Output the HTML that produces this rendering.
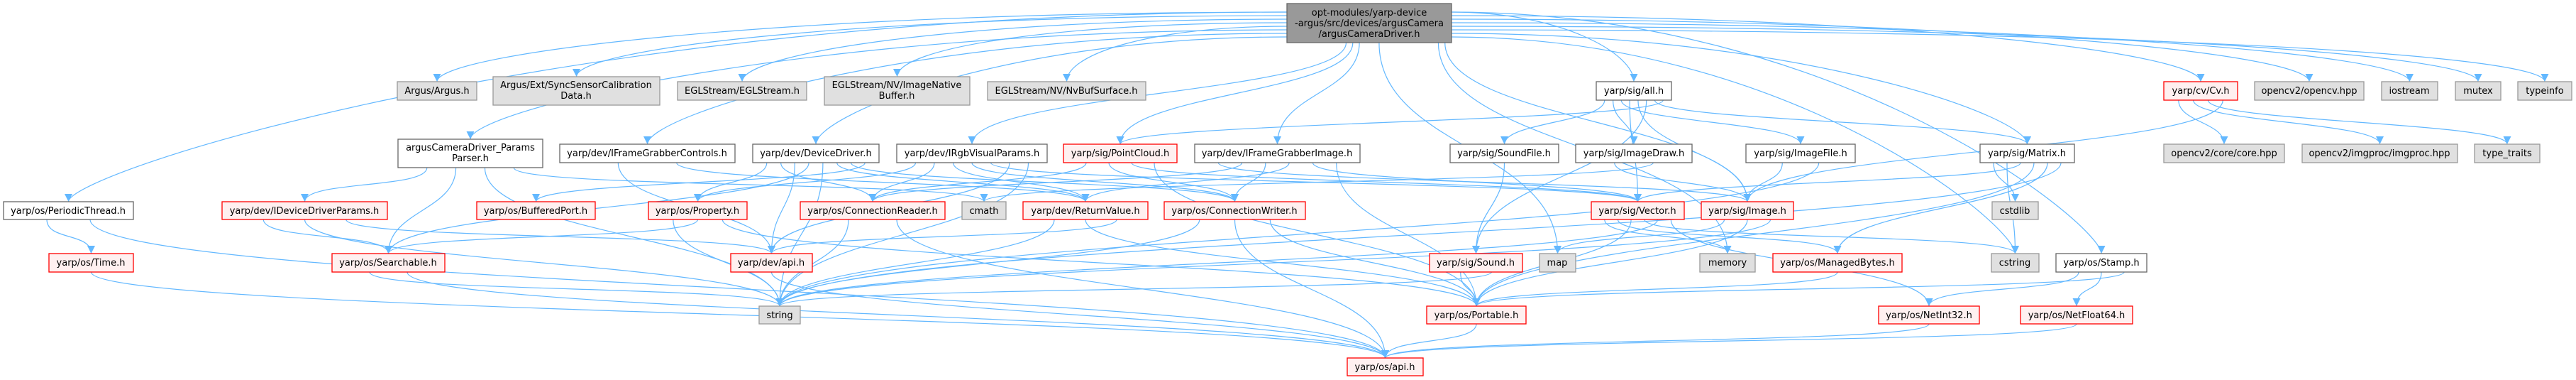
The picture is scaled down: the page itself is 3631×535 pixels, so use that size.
<!DOCTYPE html>
<html><head><meta charset="utf-8">
<style>
html,body{margin:0;padding:0;background:#fff;}
svg{display:block;}
text{font-family:"DejaVu Sans","Liberation Sans",sans-serif;font-size:13px;fill:#000;text-anchor:middle;}
.g rect{fill:#e0e0e0;stroke:#999;stroke-width:1.3;}
.w rect{fill:#fff;stroke:#666;stroke-width:1.3;}
.r rect{fill:#fff0f0;stroke:#f00;stroke-width:1.3;}
.m rect{fill:#999;stroke:#666;stroke-width:1.3;}
#edges path{fill:none;stroke:#63b8ff;stroke-width:1.2;}
</style></head>
<body>
<svg id="s" width="3631" height="535" viewBox="0 0 3631 535" xmlns="http://www.w3.org/2000/svg">
<defs><marker id="a" viewBox="0 0 10 10" refX="10" refY="5" markerWidth="11" markerHeight="11" markerUnits="userSpaceOnUse" orient="auto"><path d="M0,0 L10,5 L0,10 z" fill="#63b8ff"/></marker></defs>
<g id="edges"></g>
<g id="nodes">
<g class="m"><rect x="1814" y="5" width="232" height="55"/><text x="1930" y="22">opt-modules/yarp-device</text><text x="1930" y="37">-argus/src/devices/argusCamera</text><text x="1930" y="52">/argusCameraDriver.h</text></g>

<g class="g"><rect x="560" y="115" width="112" height="26"/><text x="616" y="132">Argus/Argus.h</text></g>
<g class="g"><rect x="695" y="108" width="235" height="40"/><text x="812" y="124">Argus/Ext/SyncSensorCalibration</text><text x="812" y="139">Data.h</text></g>
<g class="g"><rect x="955" y="115" width="182" height="26"/><text x="1046" y="132">EGLStream/EGLStream.h</text></g>
<g class="g"><rect x="1162" y="108" width="205" height="40"/><text x="1264" y="124">EGLStream/NV/ImageNative</text><text x="1264" y="139">Buffer.h</text></g>
<g class="g"><rect x="1392" y="115" width="223" height="26"/><text x="1503" y="132">EGLStream/NV/NvBufSurface.h</text></g>
<g class="w"><rect x="2250" y="115" width="106" height="26"/><text x="2303" y="132">yarp/sig/all.h</text></g>
<g class="r"><rect x="3050" y="115" width="104" height="26"/><text x="3102" y="132">yarp/cv/Cv.h</text></g>
<g class="g"><rect x="3178" y="115" width="154" height="26"/><text x="3255" y="132">opencv2/opencv.hpp</text></g>
<g class="g"><rect x="3357" y="115" width="79" height="26"/><text x="3396" y="132">iostream</text></g>
<g class="g"><rect x="3461" y="115" width="64" height="26"/><text x="3493" y="132">mutex</text></g>
<g class="g"><rect x="3549" y="115" width="76" height="26"/><text x="3587" y="132">typeinfo</text></g>

<g class="w"><rect x="561" y="196" width="204" height="40"/><text x="663" y="212">argusCameraDriver_Params</text><text x="663" y="227">Parser.h</text></g>
<g class="w"><rect x="789" y="203" width="247" height="26"/><text x="912" y="220">yarp/dev/IFrameGrabberControls.h</text></g>
<g class="w"><rect x="1061" y="203" width="178" height="26"/><text x="1150" y="220">yarp/dev/DeviceDriver.h</text></g>
<g class="w"><rect x="1264" y="203" width="212" height="26"/><text x="1370" y="220">yarp/dev/IRgbVisualParams.h</text></g>
<g class="r"><rect x="1499" y="203" width="160" height="26"/><text x="1579" y="220">yarp/sig/PointCloud.h</text></g>
<g class="w"><rect x="1684" y="203" width="233" height="26"/><text x="1800" y="220">yarp/dev/IFrameGrabberImage.h</text></g>
<g class="w"><rect x="2044" y="203" width="153" height="26"/><text x="2120" y="220">yarp/sig/SoundFile.h</text></g>
<g class="w"><rect x="2221" y="203" width="164" height="26"/><text x="2303" y="220">yarp/sig/ImageDraw.h</text></g>
<g class="w"><rect x="2461" y="203" width="154" height="26"/><text x="2538" y="220">yarp/sig/ImageFile.h</text></g>
<g class="w"><rect x="2791" y="203" width="133" height="26"/><text x="2857" y="220">yarp/sig/Matrix.h</text></g>
<g class="g"><rect x="3050" y="203" width="170" height="26"/><text x="3135" y="220">opencv2/core/core.hpp</text></g>
<g class="g"><rect x="3245" y="203" width="219" height="26"/><text x="3354" y="220">opencv2/imgproc/imgproc.hpp</text></g>
<g class="g"><rect x="3488" y="203" width="92" height="26"/><text x="3534" y="220">type_traits</text></g>

<g class="w"><rect x="5" y="284" width="183" height="25"/><text x="96" y="301">yarp/os/PeriodicThread.h</text></g>
<g class="r"><rect x="313" y="284" width="233" height="25"/><text x="429" y="301">yarp/dev/IDeviceDriverParams.h</text></g>
<g class="r"><rect x="672" y="284" width="167" height="25"/><text x="755" y="301">yarp/os/BufferedPort.h</text></g>
<g class="r"><rect x="914" y="284" width="139" height="25"/><text x="983" y="301">yarp/os/Property.h</text></g>
<g class="r"><rect x="1128" y="284" width="204" height="25"/><text x="1230" y="301">yarp/os/ConnectionReader.h</text></g>
<g class="g"><rect x="1356" y="284" width="62" height="25"/><text x="1387" y="301">cmath</text></g>
<g class="r"><rect x="1442" y="284" width="176" height="25"/><text x="1530" y="301">yarp/dev/ReturnValue.h</text></g>
<g class="r"><rect x="1641" y="284" width="199" height="25"/><text x="1740" y="301">yarp/os/ConnectionWriter.h</text></g>
<g class="r"><rect x="2243" y="284" width="131" height="25"/><text x="2308" y="301">yarp/sig/Vector.h</text></g>
<g class="r"><rect x="2398" y="284" width="130" height="25"/><text x="2463" y="301">yarp/sig/Image.h</text></g>
<g class="g"><rect x="2808" y="284" width="65" height="25"/><text x="2840" y="301">cstdlib</text></g>

<g class="r"><rect x="69" y="357" width="119" height="26"/><text x="128" y="374">yarp/os/Time.h</text></g>
<g class="r"><rect x="468" y="357" width="159" height="26"/><text x="547" y="374">yarp/os/Searchable.h</text></g>
<g class="r"><rect x="1030" y="357" width="115" height="26"/><text x="1087" y="374">yarp/dev/api.h</text></g>
<g class="r"><rect x="2015" y="357" width="131" height="26"/><text x="2080" y="374">yarp/sig/Sound.h</text></g>
<g class="g"><rect x="2170" y="357" width="51" height="26"/><text x="2195" y="374">map</text></g>
<g class="g"><rect x="2396" y="357" width="78" height="26"/><text x="2435" y="374">memory</text></g>
<g class="r"><rect x="2499" y="357" width="182" height="26"/><text x="2590" y="374">yarp/os/ManagedBytes.h</text></g>
<g class="g"><rect x="2807" y="357" width="67" height="26"/><text x="2840" y="374">cstring</text></g>
<g class="w"><rect x="2898" y="357" width="128" height="26"/><text x="2962" y="374">yarp/os/Stamp.h</text></g>

<g class="g"><rect x="1070" y="431" width="58" height="25"/><text x="1099" y="448">string</text></g>
<g class="r"><rect x="2011" y="431" width="140" height="25"/><text x="2081" y="448">yarp/os/Portable.h</text></g>
<g class="r"><rect x="2648" y="431" width="142" height="25"/><text x="2719" y="448">yarp/os/NetInt32.h</text></g>
<g class="r"><rect x="2848" y="431" width="158" height="25"/><text x="2927" y="448">yarp/os/NetFloat64.h</text></g>

<g class="r"><rect x="1899" y="504" width="107" height="25"/><text x="1952" y="521">yarp/os/api.h</text></g>
</g>
</svg>
<script>
var N={main:[1814,5,2046,60],argus:[560,115,672,141],sync:[695,108,930,148],egl:[955,115,1137,141],nbuf:[1162,108,1367,148],nvs:[1392,115,1615,141],all:[2250,115,2356,141],cv:[3050,115,3154,141],ocv:[3178,115,3332,141],ios:[3357,115,3436,141],mtx:[3461,115,3525,141],ti:[3549,115,3625,141],
parser:[561,196,765,236],ifgc:[789,203,1036,229],dd:[1061,203,1239,229],irgb:[1264,203,1476,229],pc:[1499,203,1659,229],ifgi:[1684,203,1917,229],sf:[2044,203,2197,229],idraw:[2221,203,2385,229],ifile:[2461,203,2615,229],mat:[2791,203,2924,229],core:[3050,203,3220,229],imgp:[3245,203,3464,229],tt:[3488,203,3580,229],
pt:[5,284,188,309],idp:[313,284,546,309],bp:[672,284,839,309],prop:[914,284,1053,309],cr:[1128,284,1332,309],cmath:[1356,284,1418,309],rv:[1442,284,1618,309],cw:[1641,284,1840,309],vec:[2243,284,2374,309],img:[2398,284,2528,309],cstdlib:[2808,284,2873,309],
time:[69,357,188,383],srch:[468,357,627,383],dapi:[1030,357,1145,383],snd:[2015,357,2146,383],map:[2170,357,2221,383],mem:[2396,357,2474,383],mb:[2499,357,2681,383],cstr:[2807,357,2874,383],stamp:[2898,357,3026,383],
str:[1070,431,1128,456],port:[2011,431,2151,456],ni:[2648,431,2790,456],nf:[2848,431,3006,456],oapi:[1899,504,2006,529]};
var E={main:"argus sync egl nbuf nvs parser ifgc dd irgb pc ifgi pt all map cv ocv ios mtx ti mat cstr stamp mem img",
parser:"idp srch str cmath",ifgc:"dapi rv",pt:"time oapi",idp:"srch str dapi",time:"oapi",srch:"str oapi",
dd:"prop cr dapi srch str rv cw bp",irgb:"prop cr rv cw vec dapi str",pc:"cr cw vec port",ifgi:"img cr cw rv vec port",
prop:"str srch port",cr:"str oapi",rv:"str port dapi",cw:"str oapi port",dapi:"oapi",
all:"sf idraw ifile vec img snd mat pc",sf:"snd",idraw:"img cmath",ifile:"img str",vec:"mem mb port cstr str ni",
img:"map port str",snd:"port str",mb:"port",port:"oapi",ni:"oapi",nf:"oapi",mat:"cstdlib cstr vec port mb str",
cv:"core imgp tt img",stamp:"ni nf port"};
var g=document.getElementById('edges'),out=[];
var li=0,ri=0;
for(var s in E){var a=N[s];var ts=E[s].split(' ');var n=ts.length;
ts.forEach(function(t,i){var b=N[t];var w=a[2]-a[0];
var tx=(b[0]+b[2])/2, ty=b[1];
var sx,sy,d;
if(s==='main' && (b[1]<160 || Math.abs(tx-(a[0]+a[2])/2)>700)){
  if(tx<a[0]){sx=a[0];sy=a[1]+12+(li++%8)*5;}else{sx=a[2];sy=a[1]+12+(ri++%8)*5;}
  d='M'+sx+','+sy+' C'+(sx+(tx-sx)*0.6).toFixed(1)+','+sy+' '+tx+','+(ty-40)+' '+tx+','+ty;
} else {
  sx=a[0]+w*(i+1)/(n+1); sy=a[3];
  if(b[1]<=a[1]+5){sx=(a[0]+a[2])/2;sy=a[3];ty=b[3];}
  var dy=Math.max(30,(ty-sy)*0.5);
  d='M'+sx.toFixed(1)+','+sy+' C'+sx.toFixed(1)+','+(sy+dy)+' '+tx+','+(ty-dy)+' '+tx+','+ty;
}
out.push('<path marker-end="url(#a)" d="'+d+'"/>');});}
g.innerHTML=out.join('');
</script>
</body></html>
